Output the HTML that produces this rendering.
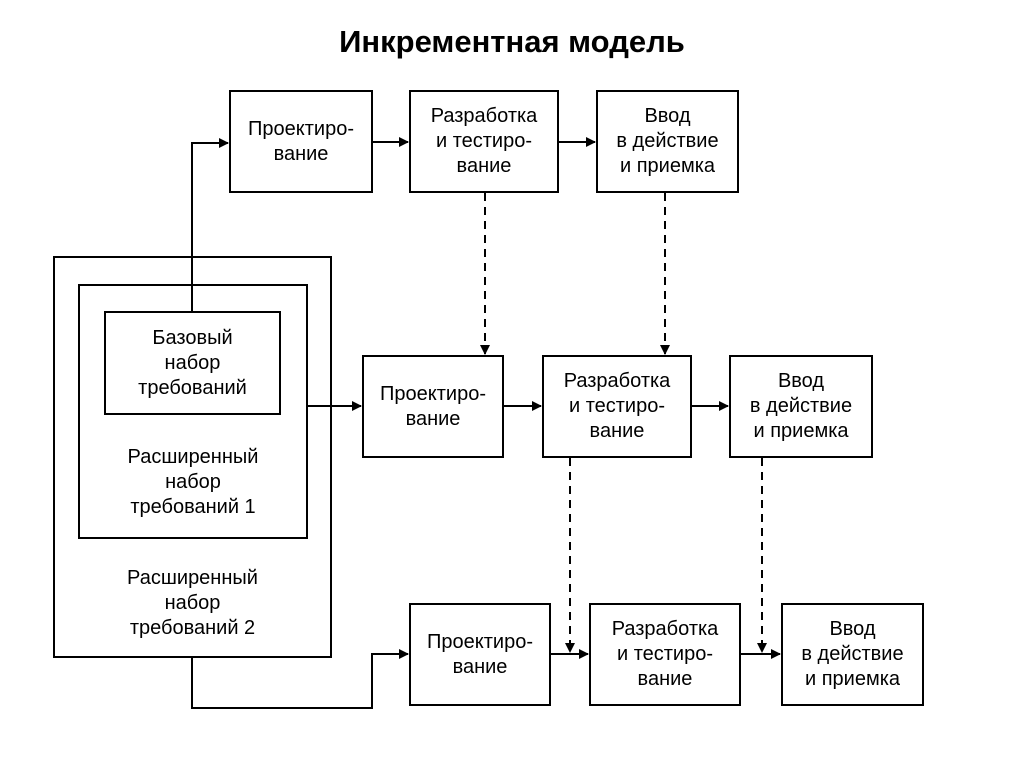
<!DOCTYPE html>
<html><head><meta charset="utf-8"><style>
body{margin:0;width:1024px;height:767px;background:#fff;position:relative;overflow:hidden;font-family:"Liberation Sans",Arial,sans-serif;}
.b{position:absolute;border:2px solid #000;box-sizing:border-box;display:flex;align-items:center;justify-content:center;text-align:center;font-size:20px;line-height:25px;color:#000;background:#fff}
.t{position:absolute;left:0;width:1024px;top:24px;text-align:center;font-size:31px;font-weight:bold}
.l{position:absolute;text-align:center;font-size:20px;line-height:25px}
svg{position:absolute;left:0;top:0}
</style></head><body>
<div class="t">Инкрементная модель</div>
<div class="b" style="left:53px;top:256px;width:279px;height:402px"></div>
<div class="b" style="left:78px;top:284px;width:230px;height:255px"></div>
<div class="b" style="left:104px;top:311px;width:177px;height:104px">Базовый<br>набор<br>требований</div>
<div class="l" style="left:80px;top:445px;width:226px">Расширенный<br>набор<br>требований 1</div>
<div class="l" style="left:55px;top:566px;width:275px">Расширенный<br>набор<br>требований 2</div>

<div class="b" style="left:229px;top:90px;width:144px;height:103px">Проектиро-<br>вание</div>
<div class="b" style="left:409px;top:90px;width:150px;height:103px">Разработка<br>и тестиро-<br>вание</div>
<div class="b" style="left:596px;top:90px;width:143px;height:103px">Ввод<br>в действие<br>и приемка</div>

<div class="b" style="left:362px;top:355px;width:142px;height:103px">Проектиро-<br>вание</div>
<div class="b" style="left:542px;top:355px;width:150px;height:103px">Разработка<br>и тестиро-<br>вание</div>
<div class="b" style="left:729px;top:355px;width:144px;height:103px">Ввод<br>в действие<br>и приемка</div>

<div class="b" style="left:409px;top:603px;width:142px;height:103px">Проектиро-<br>вание</div>
<div class="b" style="left:589px;top:603px;width:152px;height:103px">Разработка<br>и тестиро-<br>вание</div>
<div class="b" style="left:781px;top:603px;width:143px;height:103px">Ввод<br>в действие<br>и приемка</div>

<svg width="1024" height="767">
<defs><marker id="a" markerWidth="10" markerHeight="10" refX="9" refY="5" orient="auto" markerUnits="userSpaceOnUse"><path d="M0,0 L10,5 L0,10 z" fill="#000"/></marker></defs>
<g stroke="#000" stroke-width="2" fill="none">
<polyline points="192,311 192,143 228,143" marker-end="url(#a)"/>
<line x1="373" y1="142" x2="408" y2="142" marker-end="url(#a)"/>
<line x1="559" y1="142" x2="595" y2="142" marker-end="url(#a)"/>
<line x1="308" y1="406" x2="361" y2="406" marker-end="url(#a)"/>
<line x1="504" y1="406" x2="541" y2="406" marker-end="url(#a)"/>
<line x1="692" y1="406" x2="728" y2="406" marker-end="url(#a)"/>
<polyline points="192,658 192,708 372,708 372,654 408,654" marker-end="url(#a)"/>
<line x1="551" y1="654" x2="588" y2="654" marker-end="url(#a)"/>
<line x1="741" y1="654" x2="780" y2="654" marker-end="url(#a)"/>
<g stroke-dasharray="8,6">
<line x1="485" y1="193" x2="485" y2="354" marker-end="url(#a)"/>
<line x1="665" y1="193" x2="665" y2="354" marker-end="url(#a)"/>
<line x1="570" y1="458" x2="570" y2="652" marker-end="url(#a)"/>
<line x1="762" y1="458" x2="762" y2="652" marker-end="url(#a)"/>
</g></g></svg>
</body></html>
